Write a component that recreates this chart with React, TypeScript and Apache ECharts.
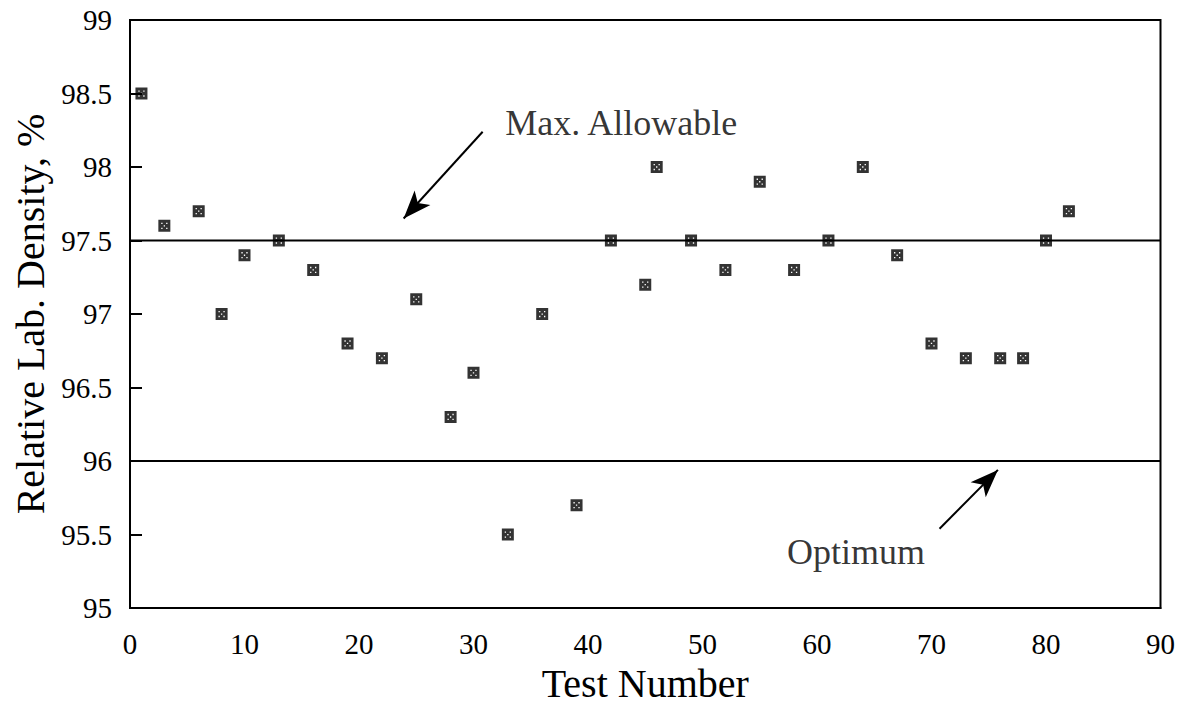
import React, { useEffect, useRef } from "react";
import * as echarts from "echarts";

const testNumbers = [1, 3, 6, 8, 10, 13, 16, 19, 22, 25, 28, 30, 33, 36, 39, 42, 45, 46, 49, 52, 55, 58, 61, 64, 67, 70, 73, 76, 78, 80, 82];
const density = [98.5, 97.6, 97.7, 97.0, 97.4, 97.5, 97.3, 96.8, 96.7, 97.1, 96.3, 96.6, 95.5, 97.0, 95.7, 97.5, 97.2, 98.0, 97.5, 97.3, 97.9, 97.3, 97.5, 98.0, 97.4, 96.8, 96.7, 96.7, 96.7, 97.5, 97.7];

const maxAllowable = 97.5;
const optimum = 96.0;

const xRange = [0, 90];
const yRange = [95, 99];

const maxLabel = "Max. Allowable";
const optLabel = "Optimum";
const maxLabelAt = [42.9, 98.3];
const optLabelAt = [63.4, 95.38];
const maxArrowFrom = [30.8, 98.24];
const maxArrowTo = [23.9, 97.65];
const optArrowFrom = [70.7, 95.54];
const optArrowTo = [75.8, 95.94];

const FONT = "'Liberation Serif', 'Times New Roman', serif";

// square with X-pattern holes (reversed winding)
const markerPath =
  "path://M0,0L10,0L10,10L0,10Z" +
  "M2.4,2.4L2.4,3.5L3.5,3.5L3.5,2.4Z" +
  "M6.5,2.4L6.5,3.5L7.6,3.5L7.6,2.4Z" +
  "M2.4,6.5L2.4,7.6L3.5,7.6L3.5,6.5Z" +
  "M6.5,6.5L6.5,7.6L7.6,7.6L7.6,6.5Z" +
  "M4.45,4.45L4.45,5.55L5.55,5.55L5.55,4.45Z";

export default function App() {
  const ref = useRef<HTMLDivElement>(null);
  useEffect(() => {
    document.body.style.margin = "0";
    const chart = echarts.init(ref.current!, undefined, { renderer: "svg" });
    const scatterData = testNumbers.map((x, i) => [x, density[i]]);
    chart.setOption({
      animation: false,
      backgroundColor: "#ffffff",
      textStyle: { fontFamily: FONT, color: "#000" },
      grid: {
        left: 130,
        right: 17,
        top: 20,
        bottom: 79,
        show: true,
        borderColor: "#000",
        borderWidth: 2,
      },
      xAxis: {
        type: "value",
        min: xRange[0],
        max: xRange[1],
        interval: 10,
        name: "Test Number",
        nameLocation: "middle",
        nameGap: 42,
        nameTextStyle: { fontSize: 40, fontFamily: FONT, color: "#000" },
        axisLine: { show: true, lineStyle: { color: "#000", width: 2 } },
        axisTick: { show: false },
        splitLine: { show: false },
        axisLabel: { fontSize: 29, fontFamily: FONT, color: "#000", margin: 21 },
      },
      yAxis: {
        type: "value",
        min: yRange[0],
        max: yRange[1],
        interval: 0.5,
        name: "Relative Lab. Density, %",
        nameLocation: "middle",
        nameGap: 78,
        nameTextStyle: { fontSize: 40, fontFamily: FONT, color: "#000" },
        axisLine: { show: true, lineStyle: { color: "#000", width: 2 } },
        axisTick: { show: true, inside: true, length: 12, lineStyle: { color: "#000", width: 2 } },
        splitLine: { show: false },
        axisLabel: { fontSize: 29, fontFamily: FONT, color: "#000", margin: 18 },
      },
      series: [
        {
          type: "line",
          data: [[xRange[0], maxAllowable], [xRange[1], maxAllowable]],
          symbol: "none",
          lineStyle: { color: "#000", width: 2 },
          silent: true,
        },
        {
          type: "line",
          data: [[xRange[0], optimum], [xRange[1], optimum]],
          symbol: "none",
          lineStyle: { color: "#000", width: 2 },
          silent: true,
        },
        {
          type: "scatter",
          data: scatterData,
          symbol: markerPath,
          symbolSize: 12,
          itemStyle: { color: "#000" },
          z: 5,
          markLine: {
            silent: true,
            symbol: ["none", "arrow"],
            symbolSize: [16, 28],
            label: { show: false },
            lineStyle: { color: "#000", width: 2, type: "solid" },
            data: [
              [{ coord: maxArrowFrom }, { coord: maxArrowTo }],
              [{ coord: optArrowFrom }, { coord: optArrowTo }],
            ],
          },
        },
        {
          type: "scatter",
          symbolSize: 1,
          itemStyle: { color: "rgba(0,0,0,0)" },
          silent: true,
          label: {
            show: true,
            position: "inside",
            formatter: "{b}",
            fontSize: 36,
            fontFamily: FONT,
            color: "#000",
          },
          data: [
            { name: maxLabel, value: maxLabelAt },
            { name: optLabel, value: optLabelAt },
          ],
        },
      ],
    });
    return () => chart.dispose();
  }, []);
  return <div ref={ref} style={{ width: 1178, height: 708 }} />;
}
